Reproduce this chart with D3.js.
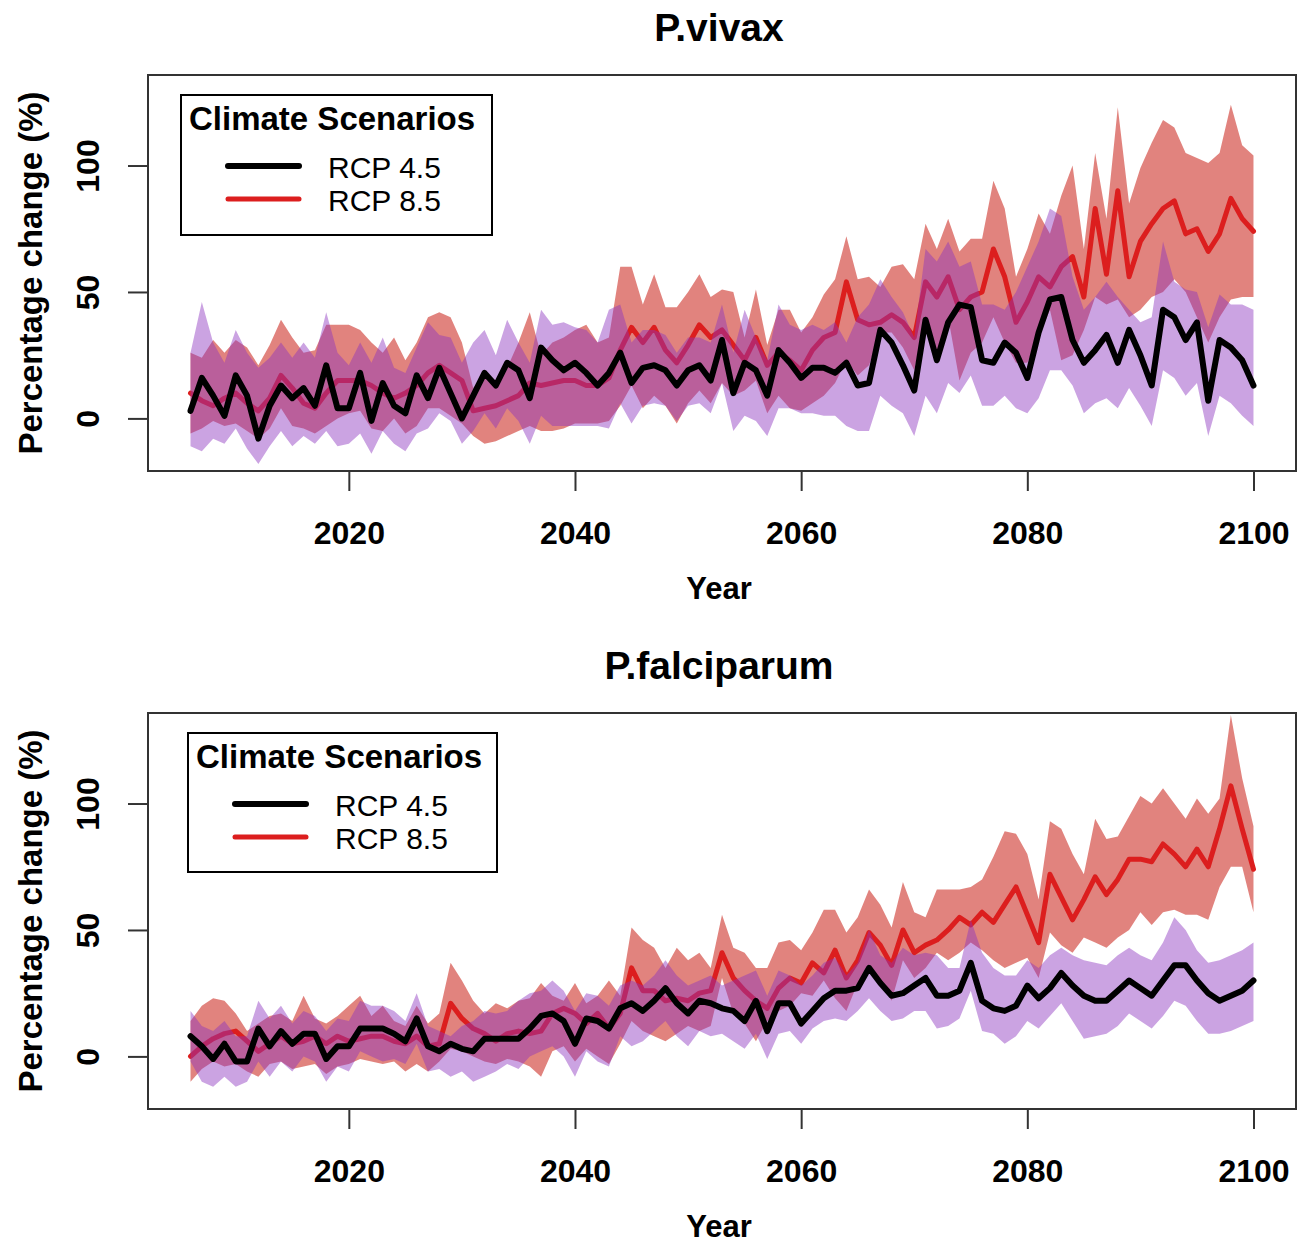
<!DOCTYPE html>
<html>
<head>
<meta charset="utf-8">
<script src="https://cdn.jsdelivr.net/npm/d3@7"></script>
<style>
  body { margin: 0; background: #fff; }
  text { font-family: "Liberation Sans", Arial, sans-serif; }
</style>
</head>
<body>
<div id="chart"></div>
<script>
const years = d3.range(2006, 2101);
const xTicks = [2020, 2040, 2060, 2080, 2100];
const yTicks = [0, 50, 100];
const scenarios = ["RCP 4.5", "RCP 8.5"];

// P.vivax, RCP 4.5 (mean, lower, upper)
const vivax45 = [
  3,16,9,1,17,9,-8,5,13,8,
  12,5,21,4,4,18,-1,14,5,2,
  17,8,20,10,0,9,18,13,22,19,
  8,28,23,19,22,18,13,18,26,14,
  20,21,19,13,19,21,15,31,10,22,
  19,9,27,22,16,20,20,18,22,13,
  14,35,30,21,11,39,23,38,45,44,
  23,22,30,26,16,34,47,48,31,22,
  27,33,22,35,25,13,43,40,31,38,
  7,31,28,23,13];
const vivax45Lo = [
  -11,-13,-8,-10,-4,-12,-18,-11,-5,-11,
  -7,-10,-5,-11,-10,-6,-14,-5,-10,-13,
  -6,-4,2,-1,-10,-5,2,-4,4,-1,
  -10,1,-3,-3,-3,-3,-3,-4,6,-2,
  5,6,5,-1,5,6,2,14,-5,1,
  -1,-7,4,4,2,2,1,1,-3,-5,
  -5,9,5,2,-7,9,2,14,10,17,
  5,5,9,4,2,8,19,19,13,2,
  6,8,4,12,5,-3,19,16,9,14,
  -7,9,6,1,-3];
const vivax45Hi = [
  26,46,30,22,35,26,20,24,30,24,
  30,24,42,26,21,30,22,32,20,18,
  28,38,33,32,22,30,35,25,39,30,
  22,43,37,38,36,35,30,43,45,30,
  35,35,33,26,32,32,30,45,26,43,
  32,23,45,37,35,37,35,38,30,40,
  45,55,48,42,32,67,62,70,60,62,
  45,45,43,50,60,70,83,80,56,43,
  48,54,48,43,38,40,70,54,51,50,
  36,49,45,45,43];

// P.vivax, RCP 8.5
const vivax85 = [
  10,7,5,8,10,6,3,8,17,12,
  6,4,10,15,15,15,13,10,8,10,
  13,18,21,18,15,3,4,5,7,9,
  14,13,14,15,15,13,13,16,27,36,
  30,36,27,22,29,37,32,35,29,23,
  32,21,26,23,19,27,32,34,54,39,
  37,38,41,38,32,54,48,56,43,48,
  50,67,56,38,46,56,52,60,64,48,
  83,57,90,56,70,77,83,86,73,75,
  66,73,87,79,74];
const vivax85Lo = [
  -6,-4,-1,-3,-2,-5,-8,-4,4,-3,
  -4,-6,-3,0,2,3,-4,-5,0,-6,
  -3,4,4,1,-2,-7,-10,-9,-7,-5,
  -3,-5,-5,-4,-2,-2,-2,-1,5,13,
  4,9,5,-2,6,11,6,14,9,11,
  15,2,9,4,3,6,9,14,23,17,
  21,34,34,28,19,40,26,40,15,26,
  30,40,30,22,22,32,43,23,25,35,
  48,45,47,40,43,48,50,55,50,40,
  30,40,47,48,48];
const vivax85Hi = [
  26,24,31,26,31,28,21,29,39,32,
  26,27,37,37,37,35,30,26,32,23,
  30,40,42,40,30,12,18,15,20,30,
  42,25,30,32,35,37,30,32,60,60,
  45,57,44,44,50,57,48,51,50,32,
  51,29,43,43,34,40,49,55,72,55,
  56,52,60,61,55,77,67,79,66,71,
  71,94,83,56,67,81,73,88,100,67,
  105,79,123,85,99,109,118,115,105,103,
  101,105,124,108,104];

// P.falciparum, RCP 4.5
const falci45 = [
  8,4,-1,5,-2,-2,11,4,10,5,
  9,9,-1,4,4,11,11,11,9,6,
  15,4,2,5,3,2,7,7,7,7,
  11,16,17,14,5,15,14,11,19,21,
  18,22,27,21,17,22,21,19,18,14,
  22,10,21,21,13,18,23,26,26,27,
  35,29,24,25,28,31,24,24,26,37,
  22,19,18,20,28,23,27,33,28,24,
  22,22,26,30,27,24,30,36,36,30,
  25,22,24,26,30];
const falci45Lo = [
  -2,-10,-12,-8,-12,-10,-2,-8,-2,-6,
  0,-2,-10,-4,-6,2,0,-2,-1,-3,
  5,-6,-5,-8,-6,-10,-8,-6,-3,-5,
  0,2,4,0,-8,2,-2,-4,8,4,
  6,10,14,8,4,10,8,9,6,3,
  9,-1,9,10,5,11,14,15,14,18,
  23,18,14,15,18,18,11,12,15,26,
  10,9,5,8,14,11,16,21,14,7,
  8,9,12,17,14,11,16,22,20,14,
  9,9,10,12,14];
const falci45Hi = [
  18,12,10,14,8,8,22,15,20,13,
  18,16,10,15,14,22,20,20,18,14,
  25,12,10,8,12,14,18,17,18,22,
  25,26,30,26,18,25,24,20,28,30,
  28,32,38,32,28,30,32,28,30,32,
  34,24,34,32,28,32,37,39,32,37,
  50,40,37,43,40,41,40,35,35,54,
  41,35,32,32,38,35,40,43,40,38,
  37,36,40,43,40,38,45,55,50,42,
  37,38,40,42,45];

// P.falciparum, RCP 8.5
const falci85 = [
  0,4,7,9,10,6,2,5,8,5,
  6,8,5,8,6,7,8,8,6,5,
  8,4,5,21,15,11,9,6,9,10,
  9,10,17,19,17,13,17,11,17,35,
  26,26,22,23,22,25,26,41,31,26,
  22,19,27,31,29,37,33,42,31,38,
  49,44,36,50,41,44,46,50,55,52,
  57,53,60,67,56,45,72,63,54,62,
  71,64,70,78,78,77,84,80,75,82,
  75,90,107,90,74];
const falci85Lo = [
  -10,-5,-2,-4,-3,-6,-8,-3,-2,-5,
  -4,-3,-7,-4,-3,-1,-2,-3,-2,-6,
  -3,-6,-2,3,2,0,-2,-3,-1,-2,
  -4,-8,2,4,-2,3,0,-3,5,14,
  10,8,6,9,12,10,12,31,17,13,
  6,14,18,20,25,24,30,23,18,29,
  35,30,22,38,31,35,41,38,41,45,
  42,38,35,37,39,31,49,44,41,47,
  45,43,47,50,57,52,57,58,56,56,
  54,67,75,75,57];
const falci85Hi = [
  14,20,23,22,17,10,13,16,17,14,
  24,15,13,16,20,24,16,20,14,12,
  20,13,17,37,30,22,17,21,19,22,
  23,29,24,22,29,21,24,30,24,51,
  46,43,35,43,38,41,35,56,43,41,
  35,35,45,46,42,49,58,58,49,55,
  66,60,51,69,57,55,66,66,66,67,
  70,79,89,88,80,62,93,90,80,72,
  94,86,87,95,103,100,106,100,94,102,
  96,102,135,110,91];

const W = 1308, H = 1245;
const left = 148, right = 1296, boxH = 396;

const svg = d3.select("#chart").append("svg")
  .attr("width", W)
  .attr("height", H);

const x = d3.scaleLinear().domain([2002.24, 2103.76]).range([left, right]);

const bandFill = { "RCP 4.5": "rgba(140,50,190,0.45)", "RCP 8.5": "rgba(200,30,20,0.55)" };
const lineColor = { "RCP 4.5": "#000000", "RCP 8.5": "#dc1e1e" };
const lineWidth = { "RCP 4.5": 6, "RCP 8.5": 5 };

function toRows(mean, lo, hi) {
  return years.map((yr, i) => ({ year: yr, mean: mean[i], lo: lo[i], hi: hi[i] }));
}

const panels = [
  {
    title: "P.vivax", top: 75, legendX: 181, legendY: 95, legendW: 311, legendH: 140,
    series: {
      "RCP 4.5": toRows(vivax45, vivax45Lo, vivax45Hi),
      "RCP 8.5": toRows(vivax85, vivax85Lo, vivax85Hi)
    }
  },
  {
    title: "P.falciparum", top: 713, legendX: 188, legendY: 733, legendW: 309, legendH: 139,
    series: {
      "RCP 4.5": toRows(falci45, falci45Lo, falci45Hi),
      "RCP 8.5": toRows(falci85, falci85Lo, falci85Hi)
    }
  }
];

panels.forEach((p, idx) => {
  const top = p.top, bottom = p.top + boxH;
  const y = d3.scaleLinear().domain([-20.8, 135.8]).range([bottom, top]);
  const g = svg.append("g");

  const clipId = "clip" + idx;
  svg.append("defs").append("clipPath").attr("id", clipId)
    .append("rect")
    .attr("x", left).attr("y", top)
    .attr("width", right - left).attr("height", boxH);

  const plot = g.append("g").attr("clip-path", `url(#${clipId})`);

  const area = d3.area()
    .x(d => x(d.year))
    .y0(d => y(d.lo))
    .y1(d => y(d.hi));

  const line = d3.line()
    .x(d => x(d.year))
    .y(d => y(d.mean));

  // RCP 8.5 drawn first, RCP 4.5 on top (as in the original)
  ["RCP 8.5", "RCP 4.5"].forEach(s => {
    plot.append("path")
      .datum(p.series[s])
      .attr("d", area)
      .attr("fill", bandFill[s])
      .attr("stroke", "none");
    plot.append("path")
      .datum(p.series[s])
      .attr("d", line)
      .attr("fill", "none")
      .attr("stroke", lineColor[s])
      .attr("stroke-width", lineWidth[s])
      .attr("stroke-linejoin", "round")
      .attr("stroke-linecap", "round");
  });

  // box
  g.append("rect")
    .attr("x", left).attr("y", top)
    .attr("width", right - left).attr("height", boxH)
    .attr("fill", "none")
    .attr("stroke", "#333")
    .attr("stroke-width", 2);

  // x axis
  const xAxisG = g.append("g")
    .attr("transform", `translate(0,${bottom})`)
    .call(d3.axisBottom(x).tickValues(xTicks).tickFormat(d3.format("d")).tickSize(20).tickPadding(30));
  xAxisG.select(".domain").remove();
  xAxisG.selectAll("line").attr("stroke", "#333").attr("stroke-width", 2);
  xAxisG.selectAll("text")
    .attr("fill", "#000")
    .attr("font-size", 32)
    .attr("font-weight", "bold")
    .style("font-family", "'Liberation Sans', Arial, sans-serif");

  // y axis
  const yAxisG = g.append("g")
    .attr("transform", `translate(${left},0)`)
    .call(d3.axisLeft(y).tickValues(yTicks).tickSize(20));
  yAxisG.select(".domain").remove();
  yAxisG.selectAll("line").attr("stroke", "#333").attr("stroke-width", 2);
  yAxisG.selectAll("text")
    .attr("x", null)
    .attr("dy", null)
    .attr("transform", "translate(-60,0) rotate(-90)")
    .attr("text-anchor", "middle")
    .attr("dominant-baseline", "central")
    .attr("fill", "#000")
    .attr("font-size", 32)
    .attr("font-weight", "bold")
    .style("font-family", "'Liberation Sans', Arial, sans-serif");

  // titles
  g.append("text")
    .attr("x", (left + right) / 2 - 3)
    .attr("y", top - 34)
    .attr("text-anchor", "middle")
    .attr("font-size", 39)
    .attr("font-weight", "bold")
    .text(p.title);

  g.append("text")
    .attr("x", (left + right) / 2 - 3)
    .attr("y", bottom + 128)
    .attr("text-anchor", "middle")
    .attr("font-size", 31)
    .attr("font-weight", "bold")
    .text("Year");

  g.append("text")
    .attr("transform", `translate(42,${(top + bottom) / 2}) rotate(-90)`)
    .attr("text-anchor", "middle")
    .attr("font-size", 33)
    .attr("font-weight", "bold")
    .text("Percentage change (%)");

  // legend
  const lg = g.append("g").attr("transform", `translate(${p.legendX},${p.legendY})`);
  lg.append("rect")
    .attr("width", p.legendW).attr("height", p.legendH)
    .attr("fill", "#fff")
    .attr("stroke", "#000")
    .attr("stroke-width", 2);
  lg.append("text")
    .attr("x", 8).attr("y", 35)
    .attr("font-size", 33)
    .attr("font-weight", "bold")
    .text("Climate Scenarios");
  scenarios.forEach((s, i) => {
    const ly = 71 + i * 33;
    lg.append("line")
      .attr("x1", 47).attr("x2", 118)
      .attr("y1", ly).attr("y2", ly)
      .attr("stroke", lineColor[s])
      .attr("stroke-width", i === 0 ? 6 : 5)
      .attr("stroke-linecap", "round");
    lg.append("text")
      .attr("x", 147).attr("y", ly + 12)
      .attr("font-size", 30)
      .text(s);
  });
});
</script>
</body>
</html>
